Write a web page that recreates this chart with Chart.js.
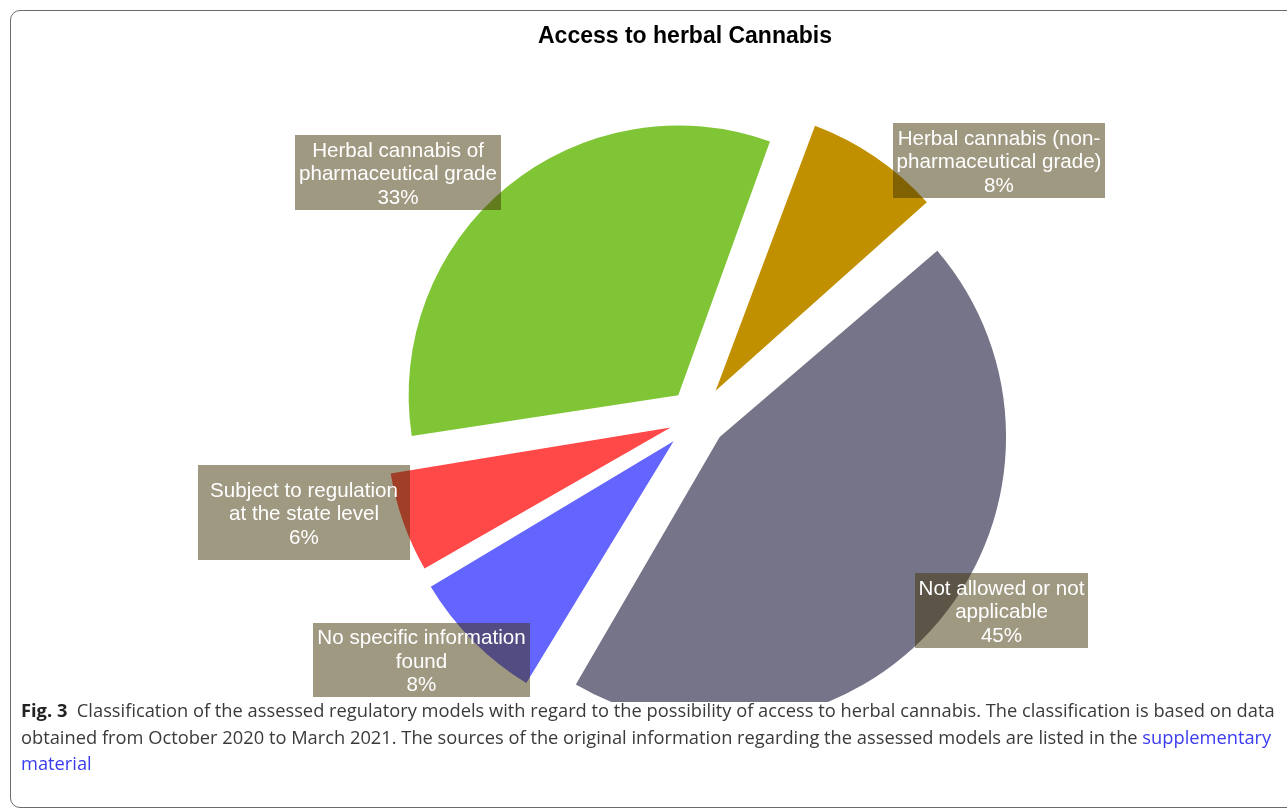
<!DOCTYPE html>
<html>
<head>
<meta charset="utf-8">
<script src="https://cdn.jsdelivr.net/npm/chart.js@4.4.0/dist/chart.umd.min.js"></script>
<style>
html, body { margin: 0; padding: 0; background: #fff; width: 1287px; height: 810px; overflow: hidden; }
#frame { position: absolute; left: 10px; top: 10px; width: 1330px; height: 798px; border: 1.5px solid #6b6b6b; border-radius: 10px; box-sizing: border-box; }
#chart { position: absolute; left: 0; top: 0; }
#title { position: absolute; left: 0; top: 22px; width: 1370px; text-align: center; font: bold 23px "Liberation Sans", Arial, sans-serif; color: #000; }
#caption { position: absolute; left: 21px; top: 697px; font-family: "Open Sans", "Noto Sans", sans-serif; font-size: 18.3px; line-height: 26.5px; color: #3a3a3a; white-space: nowrap; }
#caption b { color: #222; }
#caption a { color: #3b3bf0; text-decoration: none; }
</style>
</head>
<body>
<div id="frame"></div>
<canvas id="chart" width="1287" height="702"></canvas>
<div id="title">Access to herbal Cannabis</div>
<div id="caption">
<b>Fig. 3</b>&nbsp;&nbsp;Classification of the assessed regulatory models with regard to the possibility of access to herbal cannabis. The classification is based on data<br>
obtained from October 2020 to March 2021. The sources of the original information regarding the assessed models are listed in the <a>supplementary</a><br>
<a>material</a>
</div>
<script>
// categories, clockwise from the top
const categories = [
    ['Herbal cannabis (non-', 'pharmaceutical grade)'],
    ['Not allowed or not', 'applicable'],
    ['No specific information', 'found'],
    ['Subject to regulation', 'at the state level'],
    ['Herbal cannabis of', 'pharmaceutical grade']
];
// share of assessed regulatory models (%)
const shares = [8, 45, 8, 6, 33];

const sliceColors = ['#c09000', '#767489', '#6464ff', '#ff4848', '#80c535'];
const sliceOffsets = [132, 118, 132, 112, 118];

// label box placement (canvas px)
const labelBoxes = [
    { x: 893, y: 123, w: 212, h: 75 },
    { x: 915, y: 573, w: 173, h: 75 },
    { x: 313, y: 623, w: 217, h: 74 },
    { x: 198, y: 465, w: 212, h: 95 },
    { x: 295, y: 135, w: 206, h: 75 }
];

const boxLabels = {
    id: 'boxLabels',
    afterDatasetsDraw(chart) {
        const ctx = chart.ctx;
        ctx.save();
        ctx.font = '20.6px "Liberation Sans", Arial, sans-serif';
        ctx.textAlign = 'center';
        ctx.textBaseline = 'middle';
        for (let i = 0; i < categories.length; i++) {
            const b = labelBoxes[i];
            ctx.fillStyle = 'rgba(66, 52, 6, 0.5)';
            ctx.fillRect(b.x, b.y, b.w, b.h);
            const lines = categories[i].concat([shares[i] + '%']);
            const cx = b.x + b.w / 2;
            const cy = b.y + b.h / 2 + 2;
            ctx.fillStyle = '#ffffff';
            for (let l = 0; l < lines.length; l++) {
                ctx.fillText(lines[l], cx, cy + (l - (lines.length - 1) / 2) * 23.5);
            }
        }
        ctx.restore();
    }
};

const config = {
    type: 'pie',
    data: {
        labels: categories,
        datasets: [
            {
                data: shares,
                backgroundColor: sliceColors,
                offset: sliceOffsets,
                hoverOffset: 0,
                borderWidth: 0
            }
        ]
    },
    options: {
        responsive: false,
        animation: false,
        rotation: 20,
        radius: 266,
        layout: { padding: { left: 107, right: 0, top: 134, bottom: 0 } },
        plugins: {
            legend: { display: false },
            tooltip: { enabled: false }
        }
    },
    plugins: [boxLabels]
};

new Chart(document.getElementById('chart'), config);
</script>
</body>
</html>
